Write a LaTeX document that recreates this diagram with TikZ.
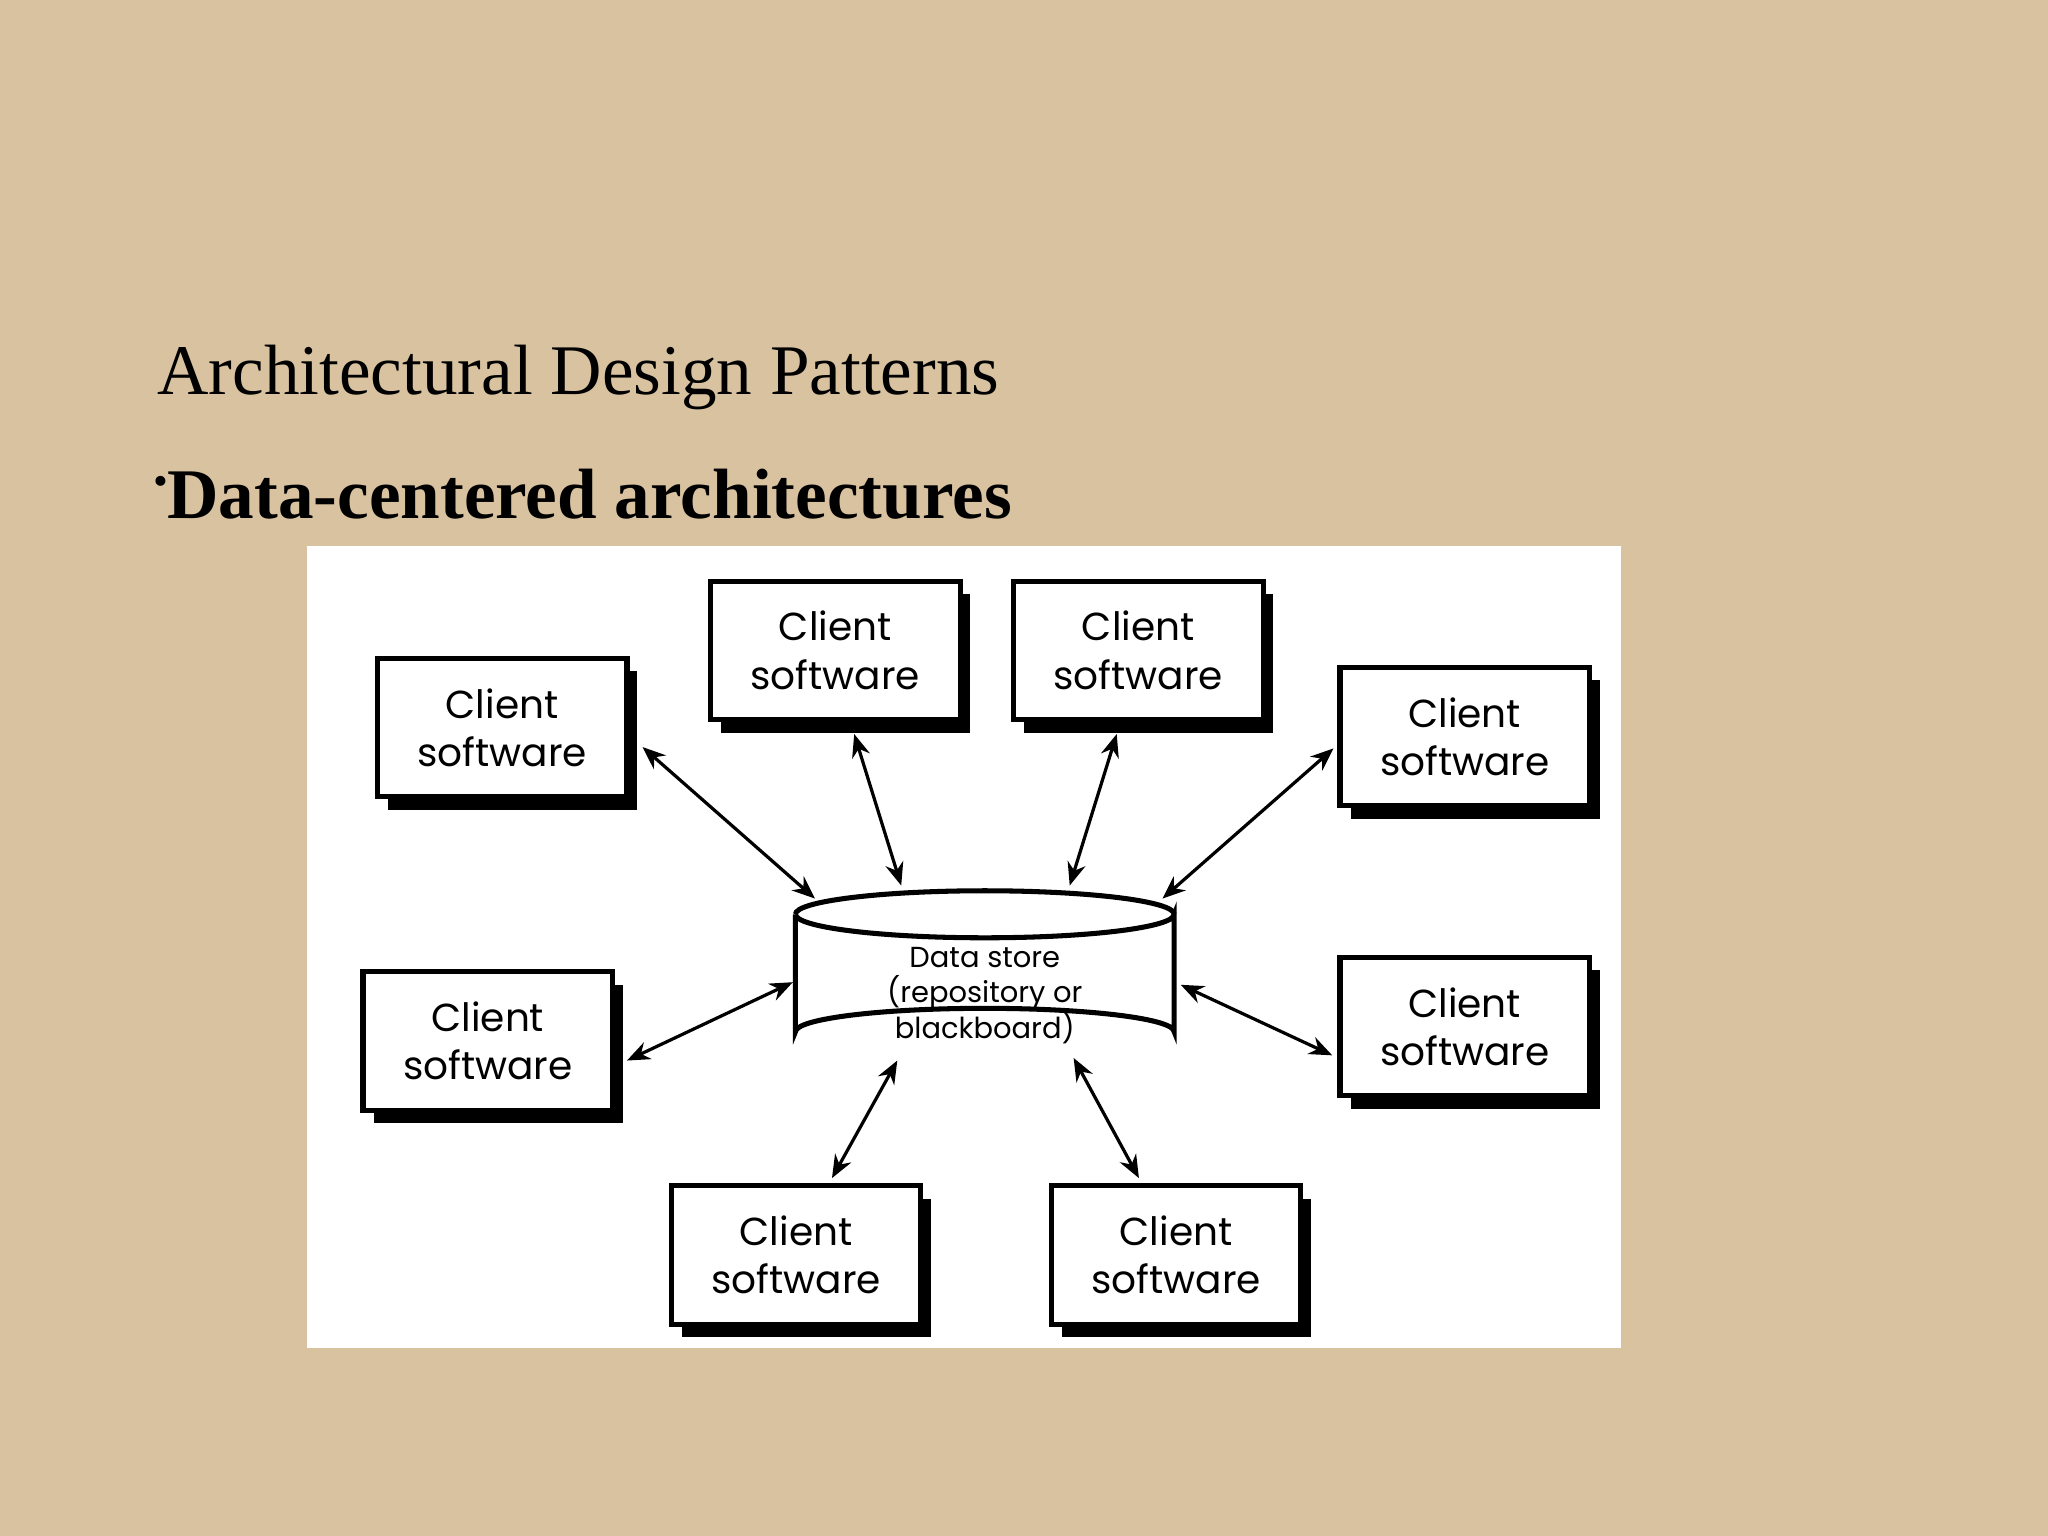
\documentclass[tikz,border=0pt]{standalone}
\usepackage{fontspec}
\setmainfont{Liberation Serif}
\newfontfamily\boxfont{Poppins}
\usetikzlibrary{arrows.meta}
\definecolor{bg}{HTML}{D9C2A0}
\begin{document}
\begin{tikzpicture}[x=0.01cm,y=-0.01cm,
 cbox/.style={draw=black,line width=1.1pt,fill=white,minimum width=1.91cm,minimum height=1.06cm,inner sep=0pt,align=center,font=\boxfont\fontsize{8.5}{10.5}\selectfont},
 shad/.style={fill=black},
 link/.style={line width=0.7pt,{Stealth[length=5pt,width=4pt]}-{Stealth[length=5pt,width=4pt]}}]
\fill[bg] (0,0) rectangle (1568,1176);
\useasboundingbox (0,0) rectangle (1568,1176);
\node[anchor=base west,font=\fontsize{15.5}{18}\selectfont] (title) at (108,302) {Architectural Design Patterns};
\node[anchor=base west,font=\bfseries\fontsize{15.5}{18}\selectfont] (sub) at (106,397) {\raisebox{0.35em}{\fontsize{8}{8}\selectfont•}Data-centered architectures};
\fill[white] (235,418) rectangle (1241,1032);
\foreach \n/\x/\y in {a/287/502,b/542/443,c/774/443,d/1024/509,e/276/742,f/1024/731,g/512/906,h/803/906}{
 \fill[shad] (\x+10,\y+12) rectangle (\x+201,\y+118);
 \node[cbox,anchor=north west] (\n) at (\x,\y) {Client\\software};
}
% cylinder
\fill[white,draw=black,line width=1.1pt] (609,700) -- (609,790) arc[start angle=180,end angle=360,x radius=145,y radius=18] -- (899,700) arc[start angle=0,end angle=180,x radius=145,y radius=18];
\draw[line width=1.1pt] (609,700) arc[start angle=180,end angle=360,x radius=145,y radius=18];
\node[align=center,font=\boxfont\fontsize{6.3}{7.7}\selectfont] (ds) at (754,762) {Data store\\(repository or\\blackboard)};
\foreach \n/\x/\y in {a1/492/572,a2/624/688,b1/654/562,b2/690/678,c1/855/562,c2/819/678,d1/1021/573,d2/890/688,e1/480/812,e2/607/752,f1/904/754,f2/1020/808,g1/687/812,g2/637/902,h1/822/810,h2/872/902}
 \coordinate (\n) at (\x,\y);
\foreach \n in {a,b,c,d,e,f,g,h} \draw[link] (\n1) -- (\n2);
\end{tikzpicture}
\end{document}
